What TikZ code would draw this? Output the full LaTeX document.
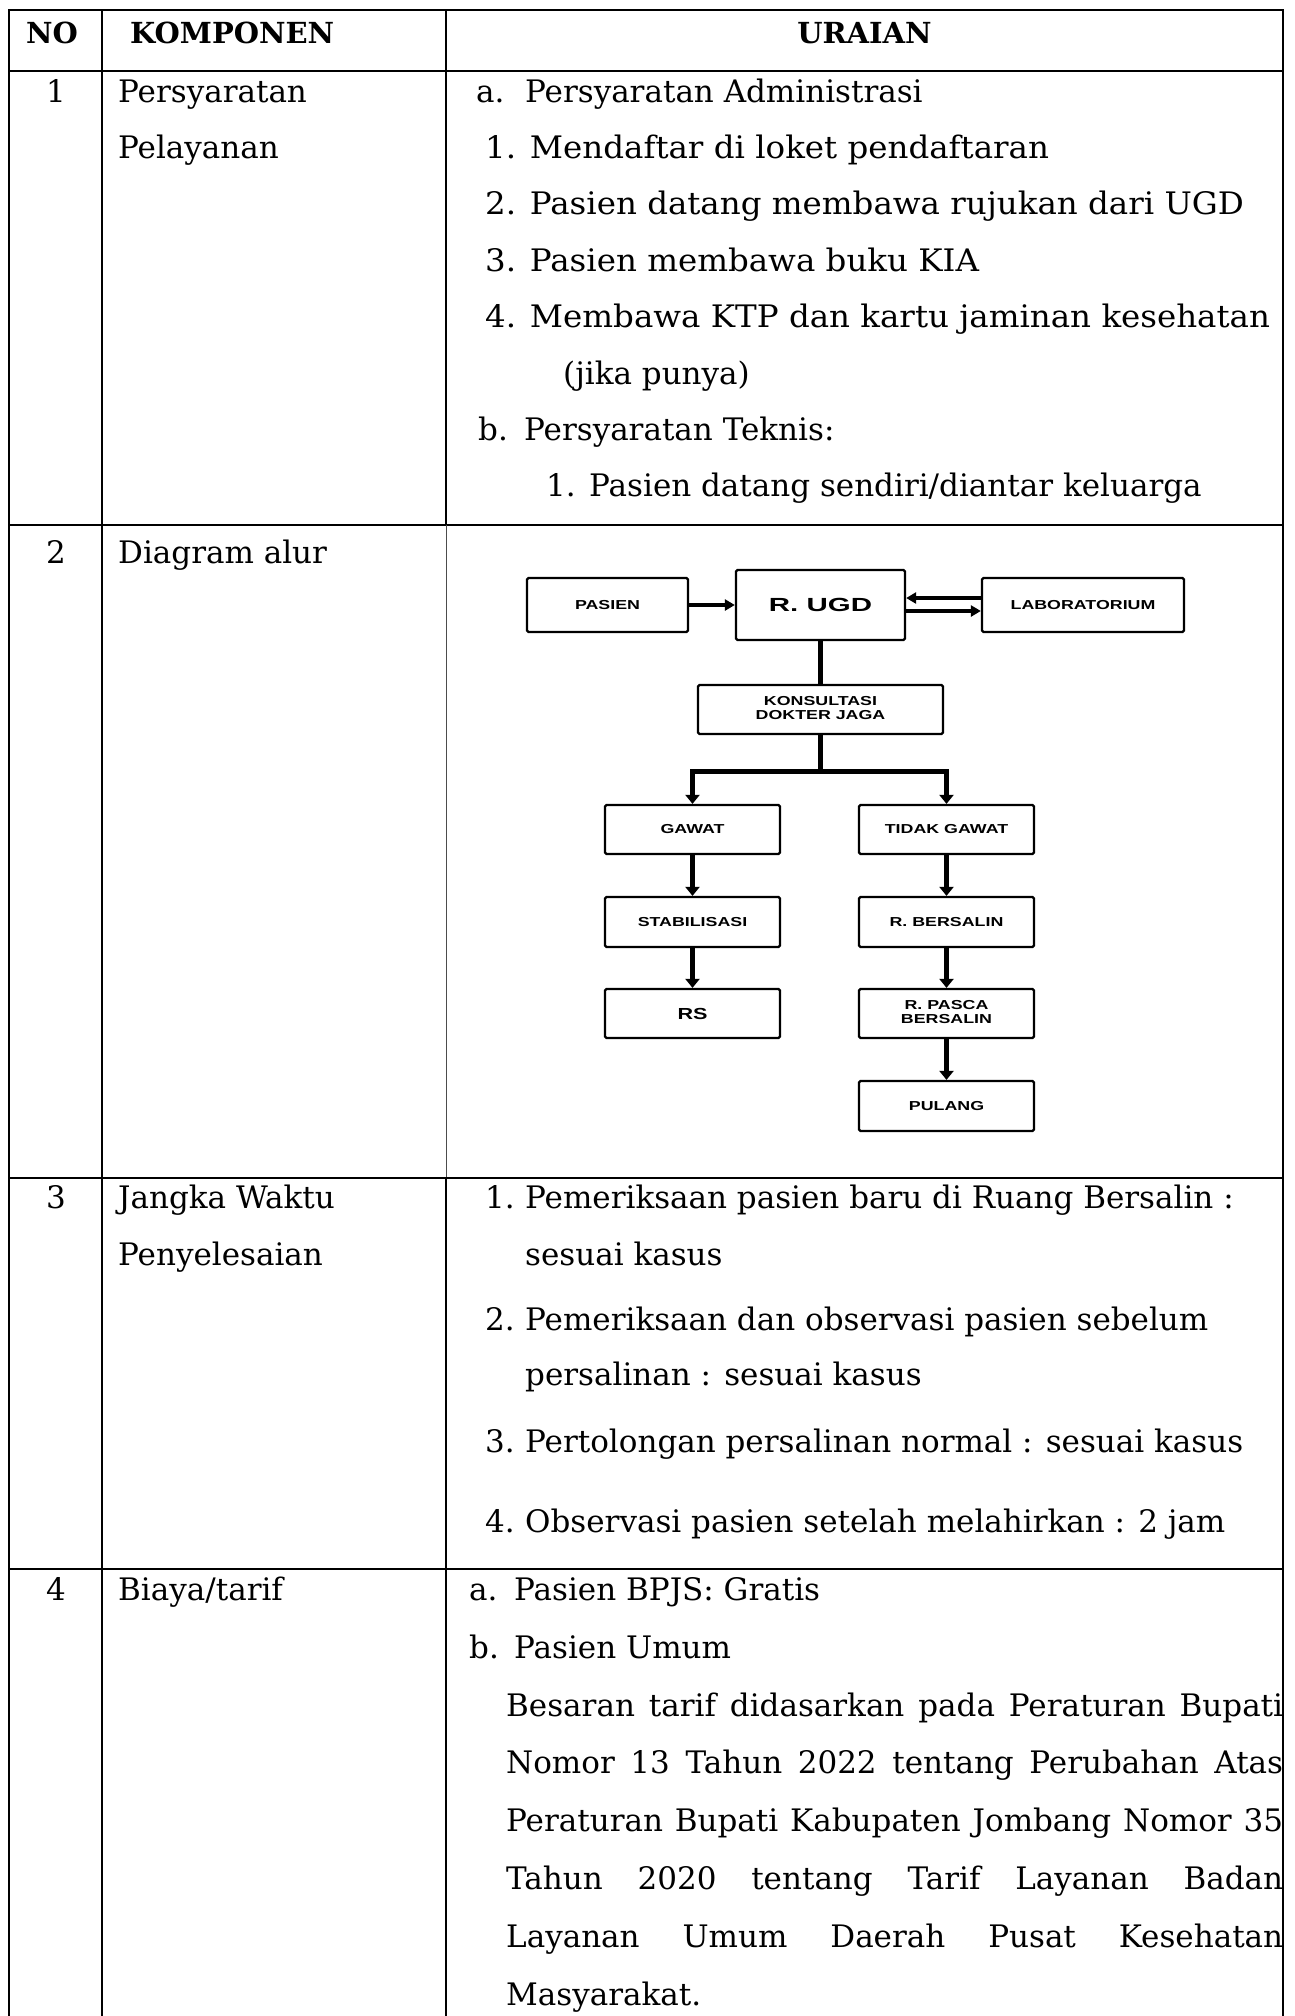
\documentclass[tikz,border=0pt]{standalone}
\usepackage{fontspec}
\setmainfont{DejaVu Serif}
\newfontfamily\flowfam{Liberation Sans}
\usepackage{graphicx}
\usetikzlibrary{arrows.meta}

\newcommand\bodyfont{\fontsize{31}{37}\selectfont}
\newcommand\headfont{\fontsize{29}{35}\selectfont\bfseries}
\newcommand\flowfont{\flowfam\bfseries\fontsize{13}{13.7}\selectfont}
\newcommand\wide[1]{\scalebox{1.37}[1]{#1}}
\newcommand\itemwide[1]{\scalebox{1.048}[1]{#1}}
\newcommand\twolines[2]{\wide{\begin{tabular}{@{}c@{}}#1\\#2\end{tabular}}}
\newcommand\lbl[2]{\makebox[#1][l]{#2}}

\begin{document}
\begin{tikzpicture}[x=1pt,y=-1pt,
  rule/.style={line width=2.5pt, line cap=rect},
  thinrule/.style={line width=1pt, draw=black!70},
  txt/.style={anchor=base west, inner sep=0pt, font=\bodyfont},
  num/.style={anchor=base, inner sep=0pt, font=\bodyfont},
  head/.style={anchor=base, inner sep=0pt, font=\headfont},
  box/.style={draw, line width=2.3pt, rounded corners=1.5pt, inner sep=0pt,
    minimum width=175pt, minimum height=49pt, font=\flowfont, align=center},
  conn/.style={line width=5pt},
  arr/.style={line width=5pt, -{Triangle[width=14pt,length=9pt]}},
  harr/.style={line width=4pt, -{Triangle[width=11pt,length=10pt]}}
]
\useasboundingbox (0,0) rectangle (1294,2016);
\fill[white] (0,0) rectangle (1294,2016);

% ---------- table grid ----------
\draw[rule] (9,10) -- (1283,10);
\draw[rule] (9,71) -- (1283,71);
\draw[rule] (9,525) -- (1283,525);
\draw[rule] (9,1178) -- (1283,1178);
\draw[rule] (9,1569) -- (1283,1569);
\draw[rule] (9,10) -- (9,2016);
\draw[rule] (102,10) -- (102,2016);
\draw[rule] (446,10) -- (446,525);
\draw[thinrule] (446,525) -- (446,1178);
\draw[rule] (446,1178) -- (446,2016);
\draw[rule] (1283,10) -- (1283,2016);

% ---------- header ----------
\node[head] (hno) at (52,43) {NO};
\node[head, anchor=base west] (hkomp) at (130,43) {KOMPONEN};
\node[head] (hurai) at (864.5,43) {URAIAN};

% ---------- row 1 ----------
\node[num] (n1) at (56,102) {1};
\node[txt] (k1a) at (118,102) {Persyaratan};
\node[txt] (k1b) at (118,158.4) {Pelayanan};
\node[txt] (r1a) at (476,102) {\lbl{49pt}{a.}Persyaratan Administrasi};
\node[txt] (r1b) at (485,158.4) {\itemwide{1. Mendaftar di loket pendaftaran}};
\node[txt] (r1c) at (485,214.8) {\itemwide{2. Pasien datang membawa rujukan dari UGD}};
\node[txt] (r1d) at (485,271.2) {\itemwide{3. Pasien membawa buku KIA}};
\node[txt] (r1e) at (485,327.6) {\itemwide{4. Membawa KTP dan kartu jaminan kesehatan}};
\node[txt] (r1f) at (563,384) {(jika punya)};
\node[txt] (r1g) at (478,440.4) {\lbl{46pt}{b.}Persyaratan Teknis:};
\node[txt] (r1h) at (546,496.8) {\lbl{43pt}{1.}Pasien datang sendiri/diantar keluarga};

% ---------- row 2 ----------
\node[num] (n2) at (56,563) {2};
\node[txt] (k2) at (118,563) {Diagram alur};

\node[box, minimum width=161pt, minimum height=54pt] (pasien) at (607.5,605) {\wide{PASIEN}};
\node[box, minimum width=169pt, minimum height=70pt,
  font=\flowfam\bfseries\fontsize{19}{20}\selectfont] (ugd) at (820.5,605)
  {\scalebox{1.55}[1]{R. UGD}};
\node[box, minimum width=202pt, minimum height=54pt] (lab) at (1083,605) {\wide{LABORATORIUM}};
\node[box, minimum width=245pt] (kons) at (820.5,709.5) {\twolines{KONSULTASI}{DOKTER JAGA}};
\node[box] (gawat) at (692.5,829.5) {\wide{GAWAT}};
\node[box] (tidak) at (946.5,829.5) {\wide{TIDAK GAWAT}};
\node[box, minimum height=50pt] (stab) at (692.5,922) {\wide{STABILISASI}};
\node[box, font=\flowfam\bfseries\fontsize{16}{17}\selectfont] (rs) at (692.5,1013.5)
  {\scalebox{1.35}[1]{RS}};
\node[box, minimum height=50pt] (rbers) at (946.5,922) {\wide{R. BERSALIN}};
\node[box] (rpasca) at (946.5,1013.5) {\twolines{R. PASCA}{BERSALIN}};
\node[box, minimum height=50pt] (pulang) at (946.5,1106) {\wide{PULANG}};
\coordinate (split) at (820.5,771);

\draw[harr] (pasien.east) -- (ugd.west);
\draw[harr] ([yshift=7pt]lab.west) -- ([yshift=7pt]ugd.east);
\draw[harr] ([yshift=-6pt]ugd.east) -- ([yshift=-6pt]lab.west);
\draw[conn] (ugd.south) -- (kons.north);
\draw[conn] (kons.south) -- (split);
\draw[arr, line join=miter] (split) -| (gawat.north);
\draw[arr, line join=miter] (split) -| (tidak.north);
\draw[arr] (gawat) -- (stab);
\draw[arr] (stab) -- (rs);
\draw[arr] (tidak) -- (rbers);
\draw[arr] (rbers) -- (rpasca);
\draw[arr] (rpasca) -- (pulang);

% ---------- row 3 ----------
\node[num] (n3) at (56,1208) {3};
\node[txt] (k3a) at (118,1208) {Jangka Waktu};
\node[txt] (k3b) at (118,1265) {Penyelesaian};
\node[txt] (r3a) at (485,1208) {\lbl{40pt}{1.}Pemeriksaan pasien baru di Ruang Bersalin :};
\node[txt] (r3b) at (525,1265) {sesuai kasus};
\node[txt] (r3c) at (485,1330) {\lbl{40pt}{2.}Pemeriksaan dan observasi pasien sebelum};
\node[txt] (r3d) at (525,1385) {persalinan : sesuai kasus};
\node[txt] (r3e) at (485,1452) {\lbl{40pt}{3.}Pertolongan persalinan normal : sesuai kasus};
\node[txt] (r3f) at (485,1532) {\lbl{40pt}{4.}Observasi pasien setelah melahirkan : 2 jam};

% ---------- row 4 ----------
\node[num] (n4) at (56,1600) {4};
\node[txt] (k4) at (118,1600) {Biaya/tarif};
\node[txt] (r4a) at (469,1600) {\lbl{45pt}{a.}Pasien BPJS: Gratis};
\node[txt] (r4b) at (469,1658) {\lbl{45pt}{b.}Pasien Umum};
\node[txt] (r4c) at (506,1716) {\makebox[777pt][s]{Besaran tarif didasarkan pada Peraturan Bupati}};
\node[txt] (r4d) at (506,1773) {\makebox[777pt][s]{Nomor 13 Tahun 2022 tentang Perubahan Atas}};
\node[txt] (r4e) at (506,1831) {\makebox[777pt][s]{Peraturan Bupati Kabupaten Jombang Nomor 35}};
\node[txt] (r4f) at (506,1889) {\makebox[777pt][s]{Tahun 2020 tentang Tarif Layanan Badan}};
\node[txt] (r4g) at (506,1947) {\makebox[777pt][s]{Layanan Umum Daerah Pusat Kesehatan}};
\node[txt] (r4h) at (506,2005) {Masyarakat.};
\end{tikzpicture}
\end{document}
